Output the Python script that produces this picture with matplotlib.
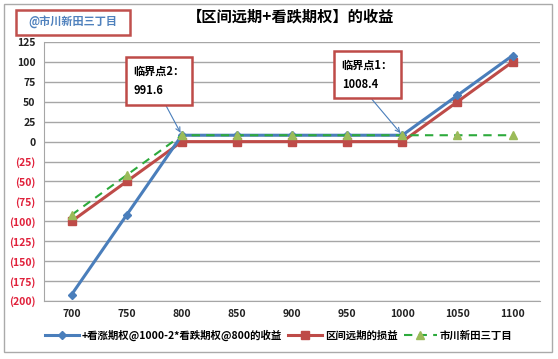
import matplotlib
matplotlib.use("Agg")
import matplotlib.pyplot as plt
from matplotlib.patches import Rectangle
from matplotlib.ticker import FixedLocator, FuncFormatter

plt.rcParams['font.family'] = ['Noto Sans CJK SC', 'DejaVu Sans']

prices = [700, 750, 800, 850, 900, 950, 1000, 1050, 1100]
call_put_combo = [-192, -92, 8, 8, 8, 8, 8, 58, 108]
range_forward = [-100, -50, 0, 0, 0, 0, 0, 50, 100]
third_series = [-92, -42, 8, 8, 8, 8, 8, 8, 8]
labels = ['+看涨期权@1000-2*看跌期权@800的收益', '区间远期的损益', '市川新田三丁目']
yticks = [125, 100, 75, 50, 25, 0, -25, -50, -75, -100, -125, -150, -175, -200]
title = '【区间远期+看跌期权】的收益'

fig = plt.figure(figsize=(5.58, 3.59), dpi=100)
ax = fig.add_axes([0.0789, 0.1616, 0.889, 0.7214])
xs = list(range(len(prices)))

ax.plot(xs, call_put_combo, color='#4A7EBB', lw=2.2, marker='D', ms=4.5,
        label=labels[0], zorder=3)
ax.plot(xs, range_forward, color='#BE4B48', lw=2.2, marker='s', ms=5.5,
        label=labels[1], zorder=2)
ax.plot(xs, third_series, color='#2DAA3C', lw=1.5, ls=(0, (4, 3)), marker='^',
        ms=6, mfc='#9BBB59', mec='#9BBB59', label=labels[2], zorder=4)

ax.set_xlim(-0.5, len(prices) - 0.5)
ax.set_ylim(-200, 125)
ax.yaxis.set_major_locator(FixedLocator(yticks))
ax.yaxis.set_major_formatter(FuncFormatter(lambda v, p: f'({abs(int(v))})' if v < 0 else f'{int(v)}'))
ax.set_xticks(xs)
ax.set_xticklabels([str(p) for p in prices])
ax.grid(axis='y', color='#A6A6A6', lw=1)
ax.set_axisbelow(True)
for s in ['top', 'right']:
    ax.spines[s].set_visible(False)
for s in ['left', 'bottom']:
    ax.spines[s].set_color('#A6A6A6')
ax.tick_params(axis='both', length=0, labelsize=7.5, pad=6)
for lab in ax.get_yticklabels():
    lab.set_fontweight('bold')
    if lab.get_text().startswith('('):
        lab.set_color('#E0203A')
    else:
        lab.set_color('#222222')
for lab in ax.get_xticklabels():
    lab.set_fontweight('bold')
    lab.set_color('#222222')

# annotations
bbox = dict(boxstyle='square,pad=0.7', fc='white', ec='#BE4B48', lw=1.8)
ax.annotate('临界点2：\n991.6', xy=(2, 8), xytext=(1.12, 76), fontsize=8,
            fontweight='bold', ha='left', va='center', bbox=bbox, linespacing=1.6,
            arrowprops=dict(arrowstyle='->', color='#4A7EBB', lw=0.8,
                            shrinkA=0, shrinkB=2, relpos=(0.55, 0)))
ax.annotate('临界点1：\n1008.4', xy=(6, 8), xytext=(4.9, 84), fontsize=8,
            fontweight='bold', ha='left', va='center', bbox=bbox, linespacing=1.6,
            arrowprops=dict(arrowstyle='->', color='#4A7EBB', lw=0.8,
                            shrinkA=0, shrinkB=2, relpos=(0.45, 0)))

# title and watermark
fig.text(0.52, 0.953, title, ha='center', va='center', fontsize=11, fontweight='bold')
fig.patches.append(Rectangle((16/558, 1-35/359), 114/558, 25/359, transform=fig.transFigure,
                             fill=False, ec='#C0504D', lw=1.8))
fig.text(73/558, 1-22/359, '@市川新田三丁目', ha='center', va='center', fontsize=8,
         fontweight='bold', color='#4F81BD')

# outer border
fig.patches.append(Rectangle((4/558, 7/359), 548/558, 348/359, transform=fig.transFigure,
                             fill=False, ec='#AAAAAA', lw=1))

leg = fig.legend(loc='center', bbox_to_anchor=(0.5, 1-335/359), ncol=3, frameon=False,
                 handlelength=3.2, columnspacing=0.6, handletextpad=0.3,
                 prop={'weight': 'bold', 'size': 7.5})

fig.savefig('out.png', dpi=100)
